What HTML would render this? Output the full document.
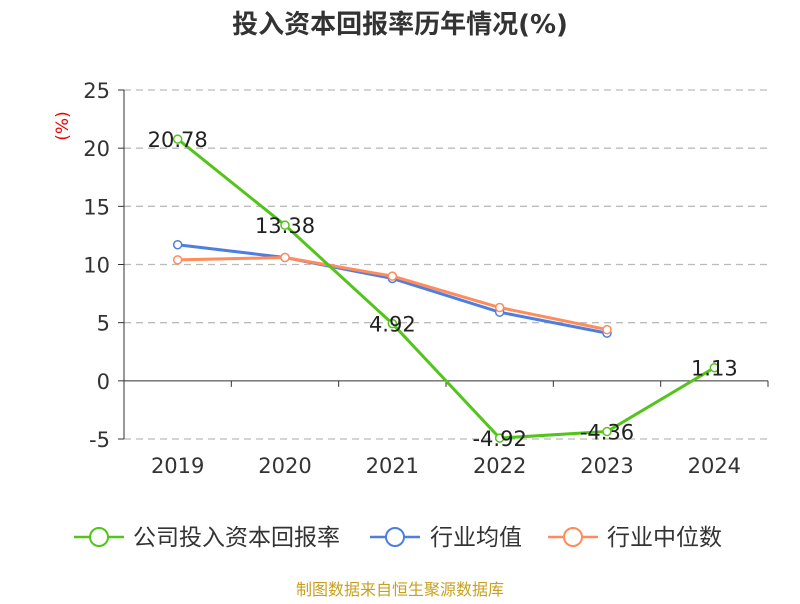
<!DOCTYPE html>
<html><head><meta charset="utf-8"><style>
body{margin:0;background:#fff;font-family:"DejaVu Sans","Noto Sans CJK SC",sans-serif;}
svg text{font-family:"DejaVu Sans","Noto Sans CJK SC",sans-serif;}
</style></head><body>
<svg id="chart" width="800" height="600" xmlns="http://www.w3.org/2000/svg">
<text x="400" y="33" text-anchor="middle" font-size="26" font-weight="bold" fill="#333">投入资本回报率历年情况(%)</text>
<text x="68" y="126" font-size="17" fill="#e00" transform="rotate(-90 68 126)" text-anchor="middle">(%)</text>
<g id="grid"></g><g id="axes"></g><g id="series"></g>
<g>
<g><line x1="74" y1="537" x2="124" y2="537" stroke="#52c41a" stroke-width="2.5"/><circle cx="99" cy="537" r="9" fill="#fff" stroke="#52c41a" stroke-width="2"/><text x="133" y="545" font-size="23" fill="#333">公司投入资本回报率</text></g>
<g><line x1="370" y1="537" x2="420" y2="537" stroke="#4e7fe0" stroke-width="2.5"/><circle cx="395" cy="537" r="9" fill="#fff" stroke="#4e7fe0" stroke-width="2"/><text x="430" y="545" font-size="23" fill="#333">行业均值</text></g>
<g><line x1="548" y1="537" x2="598" y2="537" stroke="#ff8c5a" stroke-width="2.5"/><circle cx="573" cy="537" r="9" fill="#fff" stroke="#ff8c5a" stroke-width="2"/><text x="607" y="545" font-size="23" fill="#333">行业中位数</text></g>
</g>
<text x="400" y="595" text-anchor="middle" font-size="16" fill="#c8a020">制图数据来自恒生聚源数据库</text>
</svg>
<script>
const categories=["2019","2020","2021","2022","2023","2024"];
const company=[20.78,13.38,4.92,-4.92,-4.36,1.13];
const industryAvg=[11.7,10.6,8.8,5.9,4.1];
const industryMedian=[10.4,10.6,9.0,6.3,4.4];
const yTicks=[-5,0,5,10,15,20,25];
const NS="http://www.w3.org/2000/svg";
const x0=124,x1=768,yTop=90,yBot=439,vMin=-5,vMax=25;
const band=(x1-x0)/categories.length;
function xs(i){return x0+band*(i+0.5);}
function ys(v){return yBot-(v-vMin)/(vMax-vMin)*(yBot-yTop);}
function mk(tag,attrs,parent){const e=document.createElementNS(NS,tag);for(const k in attrs)e.setAttribute(k,attrs[k]);parent.appendChild(e);return e;}
const grid=document.getElementById('grid'),axes=document.getElementById('axes'),ser=document.getElementById('series');
yTicks.forEach(t=>{
 if(t!==0){const l=mk('line',{x1:x0,x2:x1,y1:ys(t),y2:ys(t),stroke:'#bbb','stroke-dasharray':'7,5','stroke-width':1.3},grid);
 
 }
 const tk=mk('line',{x1:x0-6,x2:x0,y1:ys(t),y2:ys(t),stroke:'#333'},axes);
 
 
 const tx=mk('text',{x:x0-14,y:ys(t)+8,'text-anchor':'end','font-size':21,fill:'#333'},axes);tx.textContent=t;
 
 
});
const ya=mk('line',{x1:x0,x2:x0,y1:yTop,y2:yBot,stroke:'#333'},axes);


const xa=mk('line',{x1:x0,x2:x1,y1:ys(0),y2:ys(0),stroke:'#333'},axes);


for(let i=0;i<=categories.length;i++){const tk=mk('line',{x1:x0+band*i,x2:x0+band*i,y1:ys(0),y2:ys(0)+6,stroke:'#333'},axes);
 
 }
categories.forEach((c,i)=>{const t=mk('text',{x:xs(i),y:473,'text-anchor':'middle','font-size':21,fill:'#333'},axes);t.textContent=c;
 
 });
function series(data,color,name,labels){
 const g=mk('g',{},ser);
 
 
 const p=mk('polyline',{points:data.map((v,i)=>xs(i)+','+ys(v)).join(' '),fill:'none',stroke:color,'stroke-width':3},g);
 
 
 data.forEach((v,i)=>{const c=mk('circle',{cx:xs(i),cy:ys(v),r:4,fill:'#fff',stroke:color,'stroke-width':1.5},g);
  
  
  if(labels){const t=mk('text',{x:xs(i),y:ys(v)+8,'text-anchor':'middle','font-size':21,fill:'#222'},g);t.textContent=v.toFixed(2);
   
   }
 });
}
series(industryAvg,'#4e7fe0','industry-avg-series',false);
series(industryMedian,'#ff8c5a','industry-median-series',false);
series(company,'#52c41a','company-series',true);
</script>
</body></html>
